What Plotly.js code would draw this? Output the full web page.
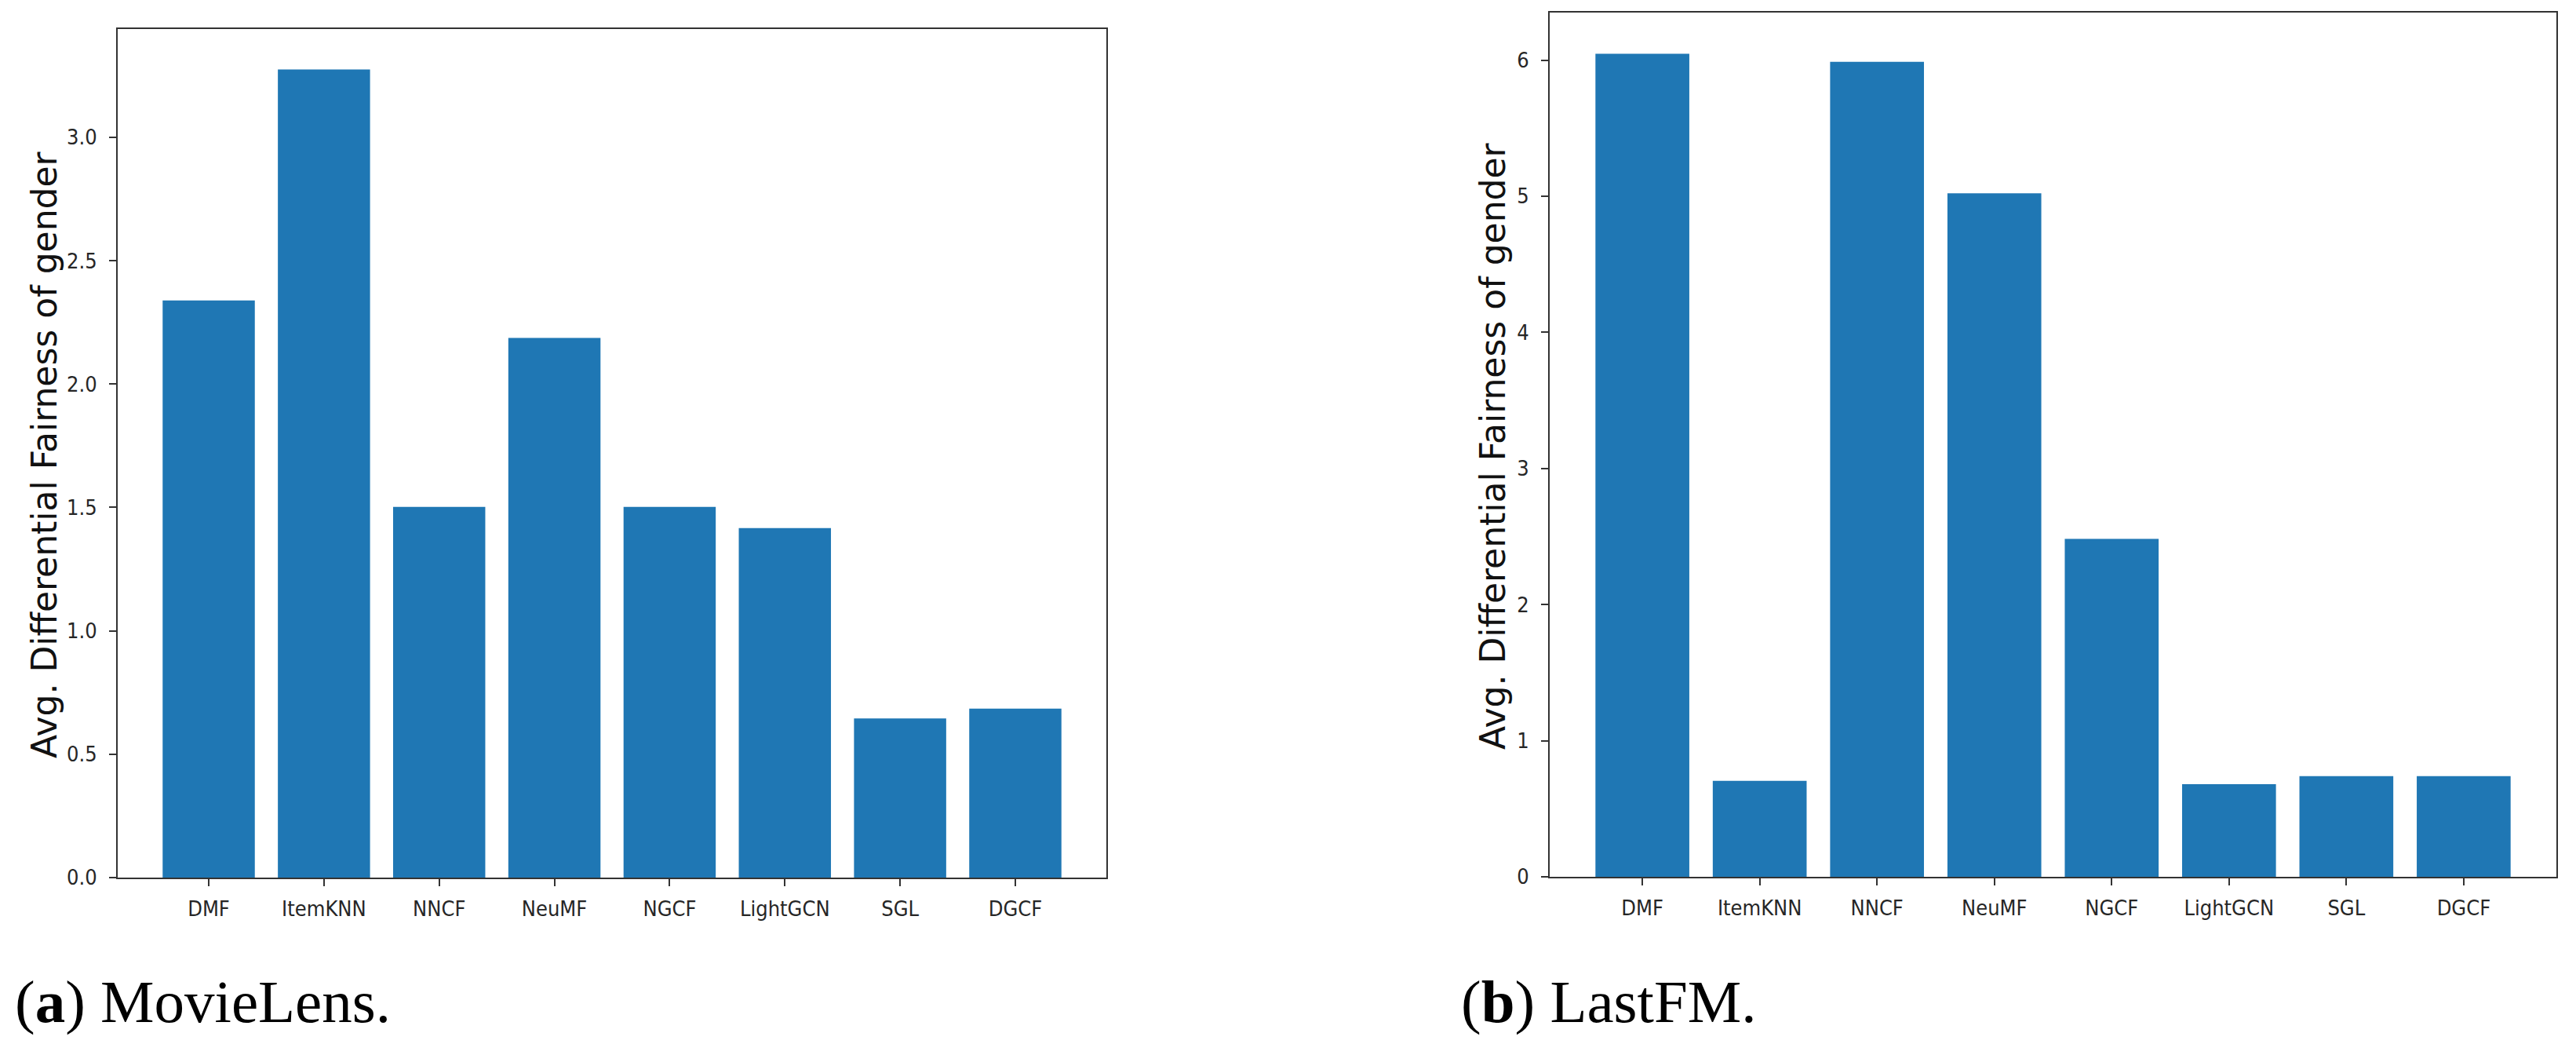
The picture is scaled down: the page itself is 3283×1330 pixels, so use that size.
<!DOCTYPE html>
<html>
<head>
<meta charset="utf-8">
<script src="https://cdn.plot.ly/plotly-3.0.1.min.js"></script>
<style>html,body{margin:0;padding:0;background:#fff;}#chart{width:3283px;height:1330px;}</style>
</head>
<body>
<div id="chart"></div>
<script>
const categories = ["DMF", "ItemKNN", "NNCF", "NeuMF", "NGCF", "LightGCN", "SGL", "DGCF"];
const movielensValues = [2.339, 3.275, 1.502, 2.187, 1.502, 1.416, 0.645, 0.685];
const lastfmValues = [6.047, 0.705, 5.988, 5.021, 2.483, 0.680, 0.739, 0.739];
const movielensTicks = [0, 0.5, 1.0, 1.5, 2.0, 2.5, 3.0];
const lastfmTicks = [0, 1, 2, 3, 4, 5, 6];
const yTitle = "Avg. Differential Fairness of gender";
const captionA = "(<b>a</b>) MovieLens.";
const captionB = "(<b>b</b>) LastFM.";

const W = 3283, H = 1330;
const px = v => v / W;
const py = v => 1 - v / H;

const barColor = "#1f77b4";
const tickFont = {family: "DejaVu Sans Condensed, DejaVu Sans", size: 27, color: "#262626"};

function axisCommon() {
  return {
    showline: true, mirror: true, linecolor: "#333", linewidth: 2,
    ticks: "outside", ticklen: 9, tickwidth: 2, tickcolor: "#333",
    showgrid: false, zeroline: false, tickfont: tickFont, fixedrange: true
  };
}

const traces = [
  {type: "bar", x: categories, y: movielensValues, marker: {color: barColor}, xaxis: "x", yaxis: "y", hoverinfo: "none"},
  {type: "bar", x: categories, y: lastfmValues, marker: {color: barColor}, xaxis: "x2", yaxis: "y2", hoverinfo: "none"}
];

const maxA = Math.max(...movielensValues), maxB = Math.max(...lastfmValues);

const layout = {
  width: W, height: H,
  margin: {l: 0, r: 0, t: 0, b: 0},
  paper_bgcolor: "#fff", plot_bgcolor: "#fff",
  showlegend: false,
  bargap: 0.2,
  xaxis: Object.assign(axisCommon(), {domain: [px(150), px(1410)], anchor: "y", type: "category", range: [-0.79, 7.79], ticklabelstandoff: 6}),
  yaxis: Object.assign(axisCommon(), {domain: [py(1118), py(37)], anchor: "x", range: [0, maxA * 1.05], tickvals: movielensTicks, tickformat: ".1f", ticklabelstandoff: 10}),
  xaxis2: Object.assign(axisCommon(), {domain: [px(1975), px(3258)], anchor: "y2", type: "category", range: [-0.79, 7.79], ticklabelstandoff: 6}),
  yaxis2: Object.assign(axisCommon(), {domain: [py(1117), py(16)], anchor: "x2", range: [0, maxB * 1.05], tickvals: lastfmTicks, tickformat: "d", ticklabelstandoff: 10}),
  annotations: [
    {text: yTitle, xref: "paper", yref: "paper", x: px(57), y: py(579), xanchor: "center", yanchor: "middle", textangle: -90, showarrow: false,
     font: {family: "DejaVu Sans", size: 44, color: "#111"}},
    {text: yTitle, xref: "paper", yref: "paper", x: px(1903), y: py(568), xanchor: "center", yanchor: "middle", textangle: -90, showarrow: false,
     font: {family: "DejaVu Sans", size: 44, color: "#111"}},
    {text: captionA, xref: "paper", yref: "paper", x: px(17), y: py(1276), xanchor: "left", yanchor: "middle", showarrow: false,
     font: {family: "Liberation Serif", size: 77, color: "#000"}},
    {text: captionB, xref: "paper", yref: "paper", x: px(1860), y: py(1276), xanchor: "left", yanchor: "middle", showarrow: false,
     font: {family: "Liberation Serif", size: 77, color: "#000"}}
  ]
};

Plotly.newPlot("chart", traces, layout, {staticPlot: true, displayModeBar: false});
</script>
</body>
</html>
